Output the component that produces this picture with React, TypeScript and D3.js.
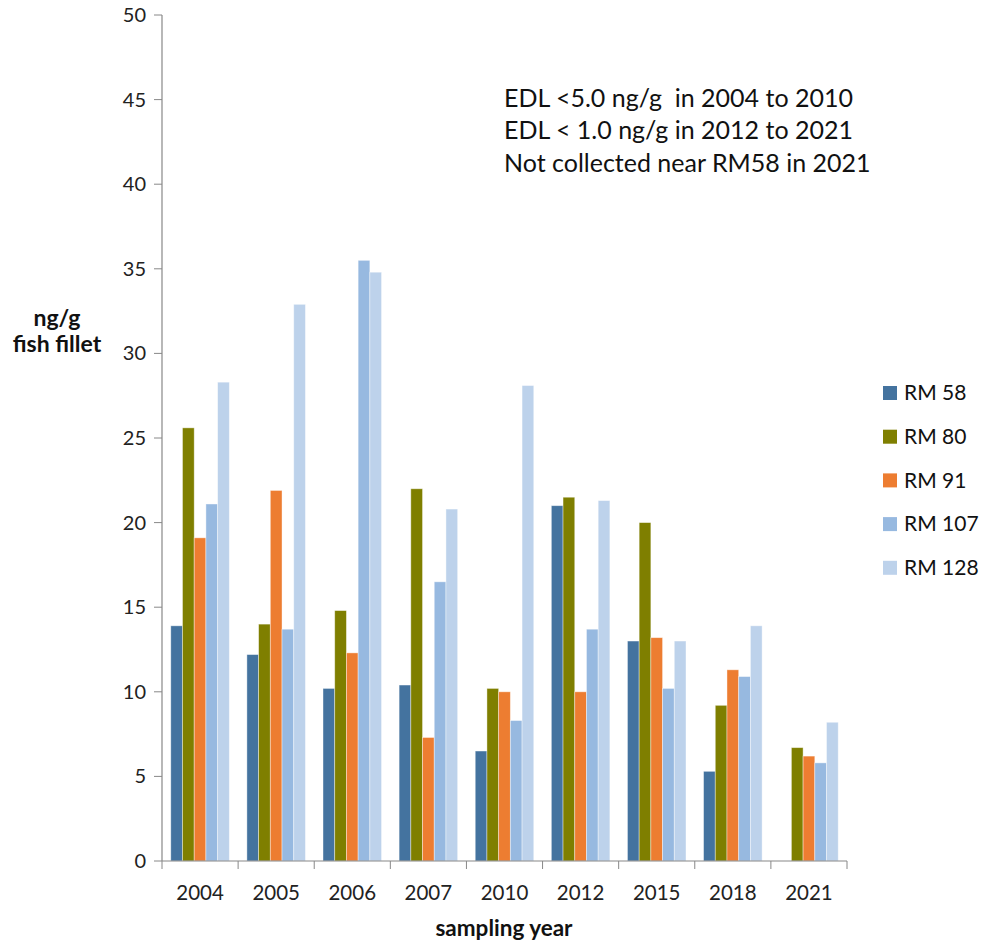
import * as d3 from 'd3';

const years = ['2004', '2005', '2006', '2007', '2010', '2012', '2015', '2018', '2021'];
const seriesNames = ['RM 58', 'RM 80', 'RM 91', 'RM 107', 'RM 128'];
const seriesColors = ['#44739f', '#7f7f00', '#ed7d31', '#97b9e0', '#bdd2eb'];

const rm58 = [13.9, 12.2, 10.2, 10.4, 6.5, 21.0, 13.0, 5.3, null];
const rm80 = [25.6, 14.0, 14.8, 22.0, 10.2, 21.5, 20.0, 9.2, 6.7];
const rm91 = [19.1, 21.9, 12.3, 7.3, 10.0, 10.0, 13.2, 11.3, 6.2];
const rm107 = [21.1, 13.7, 35.5, 16.5, 8.3, 13.7, 10.2, 10.9, 5.8];
const rm128 = [28.3, 32.9, 34.8, 20.8, 28.1, 21.3, 13.0, 13.9, 8.2];
const seriesValues = [rm58, rm80, rm91, rm107, rm128];

const yTicks = [0, 5, 10, 15, 20, 25, 30, 35, 40, 45, 50];
const notes = [
  'EDL <5.0 ng/g  in 2004 to 2010',
  'EDL < 1.0 ng/g in 2012 to 2021',
  'Not collected near RM58 in 2021',
];

const W = 984;
const H = 944;
const margin = { left: 162, right: 137, top: 15, bottom: 83 };
const font = 'Lato, "Open Sans", sans-serif';
const axisColor = '#888';

export default function App() {
  const x = d3
    .scaleBand<string>()
    .domain(years)
    .range([margin.left, W - margin.right]);
  const xs = d3
    .scaleBand<string>()
    .domain(seriesNames)
    .range([0, x.bandwidth()])
    .paddingOuter(0.75)
    .paddingInner(0);
  const y = d3
    .scaleLinear()
    .domain([0, 50])
    .range([H - margin.bottom, margin.top]);
  const y0 = y(0);

  return (
    <svg
      width={W}
      height={H}
      style={{ display: 'block', background: '#fff', position: 'absolute', left: 0, top: 0 }}
      fontFamily={font}
    >
      {/* bars */}
      {seriesValues.map((vals, si) =>
        vals.map((v, i) =>
          v == null ? null : (
            <rect
              key={`${si}-${i}`}
              x={(x(years[i]) ?? 0) + (xs(seriesNames[si]) ?? 0)}
              y={y(v)}
              width={xs.bandwidth()}
              height={y0 - y(v)}
              fill={seriesColors[si]}
              stroke="#fff"
              strokeOpacity={0.5}
              strokeWidth={0.8}
            />
          )
        )
      )}

      {/* y axis */}
      <line x1={margin.left} x2={margin.left} y1={y(50)} y2={y0} stroke={axisColor} strokeWidth={1.2} />
      {yTicks.map((t) => (
        <g key={t}>
          <line x1={margin.left - 8} x2={margin.left} y1={y(t)} y2={y(t)} stroke={axisColor} />
          <text x={margin.left - 16} y={y(t)} dy="0.35em" textAnchor="end" fontSize={20} fill="#222">
            {t}
          </text>
        </g>
      ))}

      {/* x axis */}
      <line x1={margin.left} x2={W - margin.right} y1={y0} y2={y0} stroke={axisColor} strokeWidth={1.2} />
      {[...years.map((yr) => x(yr) ?? 0), W - margin.right].map((px, i) => (
        <line key={i} x1={px} x2={px} y1={y0} y2={y0 + 8} stroke={axisColor} />
      ))}
      {years.map((yr) => (
        <text
          key={yr}
          x={(x(yr) ?? 0) + x.bandwidth() / 2}
          y={893}
          dy="0.35em"
          textAnchor="middle"
          fontSize={20.5}
          fill="#222"
        >
          {yr}
        </text>
      ))}

      {/* axis titles */}
      <text x={57} y={318} dy="0.35em" textAnchor="middle" fontSize={23} fontWeight={700} fill="#111">
        ng/g
      </text>
      <text x={57} y={344} dy="0.35em" textAnchor="middle" fontSize={23} fontWeight={700} fill="#111">
        fish fillet
      </text>
      <text x={504} y={928} dy="0.35em" textAnchor="middle" fontSize={22.5} fontWeight={700} fill="#111">
        sampling year
      </text>

      {/* notes */}
      {notes.map((n, i) => (
        <text key={n} x={504} y={98 + i * 32.5} dy="0.35em" fontSize={25} fill="#111" style={{ whiteSpace: 'pre' }}>
          {n}
        </text>
      ))}

      {/* legend */}
      {seriesNames.map((s, i) => (
        <g key={s} transform={`translate(883,${393 + i * 43.7})`}>
          <rect x={0} y={-7} width={14} height={14} fill={seriesColors[i]} />
          <text x={21} y={0} dy="0.35em" fontSize={21} fill="#111">
            {s}
          </text>
        </g>
      ))}
    </svg>
  );
}
